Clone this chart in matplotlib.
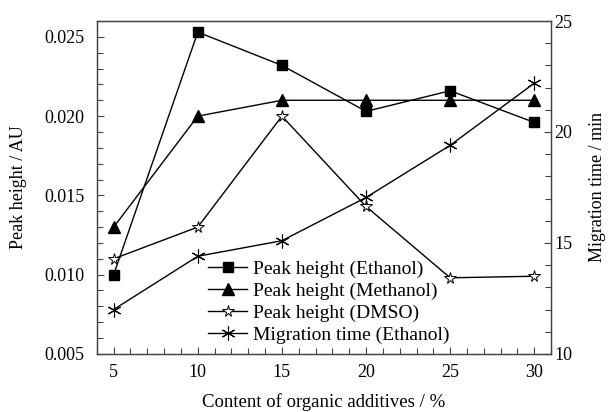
import matplotlib.pyplot as plt
from matplotlib.ticker import MultipleLocator

plt.rcParams['font.family'] = ['Liberation Serif', 'DejaVu Serif']
plt.rcParams['mathtext.fontset'] = 'stix'

content = [5, 10, 15, 20, 25, 30]
peak_ethanol = [0.0100, 0.0253, 0.0232, 0.0203, 0.0216, 0.0196]
peak_methanol = [0.0130, 0.0200, 0.0210, 0.0210, 0.0210, 0.0210]
peak_dmso = [0.0110, 0.0130, 0.0200, 0.0143, 0.0098, 0.0099]
migration_ethanol = [12.0, 14.4, 15.1, 17.05, 19.4, 22.2]

fig = plt.figure(figsize=(6.09, 4.12), dpi=100)
ax = fig.add_axes([0.159, 0.141, 0.746, 0.808])
ax2 = ax.twinx()

l1, = ax.plot(content, peak_ethanol, color='k', lw=1, marker='s', ms=7, label='Peak height (Ethanol)')
l2, = ax.plot(content, peak_methanol, color='k', lw=1, marker='^', ms=8, label='Peak height (Methanol)')
l3, = ax.plot(content, peak_dmso, color='k', lw=1, marker='*', ms=8.5, mfc='white', mew=0.7,
              label='Peak height (DMSO)')
l4, = ax2.plot(content, migration_ethanol, color='k', lw=1, marker=(6, 2, 0), ms=10, mew=0.8,
               label='Migration time (Ethanol)')

ax.set_xlim(4, 31)
ax.set_ylim(0.005, 0.026)
ax2.set_ylim(10, 25)

ax.xaxis.set_major_locator(MultipleLocator(5))
ax.xaxis.set_minor_locator(MultipleLocator(1))
ax.yaxis.set_major_locator(MultipleLocator(0.005))
ax.yaxis.set_minor_locator(MultipleLocator(0.001))
ax2.yaxis.set_major_locator(MultipleLocator(5))
ax2.yaxis.set_minor_locator(MultipleLocator(1))
ax.yaxis.set_major_formatter(plt.FormatStrFormatter('%.3f'))

for a in (ax, ax2):
    a.tick_params(which='both', direction='in', top=False, labelsize=13, width=0.8, color='#444444')
    a.tick_params(which='major', length=5)
    a.tick_params(which='minor', length=4)
    for s in a.spines.values():
        s.set_color('#444444')
        s.set_linewidth(0.9)
ax.tick_params(axis='x', pad=7)
ax.tick_params(axis='y', pad=9)
ax2.tick_params(axis='y', pad=2)

ax.set_xlabel('Content of organic additives / %', fontsize=13.5, labelpad=9)
ax.set_ylabel('Peak height / AU', fontsize=13, labelpad=12)
ax2.set_ylabel('Migration time / min', fontsize=13, labelpad=12)

ax.legend(handles=[l1, l2, l3, l4], loc='lower left', bbox_to_anchor=(0.22, -0.005),
          frameon=False, fontsize=14, handlelength=2.0, handletextpad=0.3, labelspacing=0.22,
          borderaxespad=0.2)

fig.savefig('out.png', dpi=100)
